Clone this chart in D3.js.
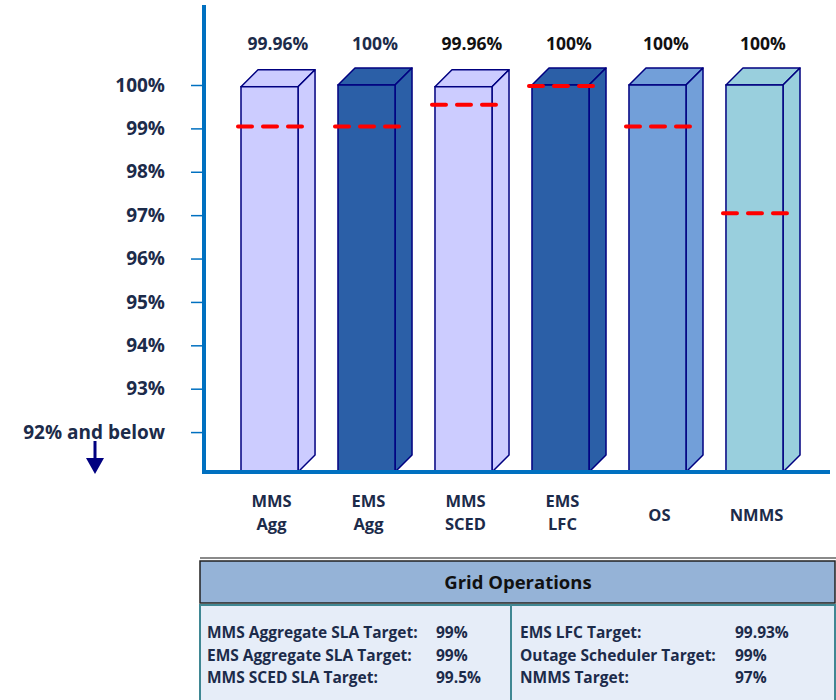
<!DOCTYPE html>
<html>
<head>
<meta charset="utf-8">
<script src="https://cdn.jsdelivr.net/npm/d3@7"></script>
<style>
  body { margin: 0; background: #fff; }
  svg { display: block; font-family: "Open Sans", sans-serif; font-weight: bold; }
</style>
</head>
<body>
<div id="chart"></div>
<script>
"use strict";
(function(){
    // chart values
    const systems = ["MMS Agg", "EMS Agg", "MMS SCED", "EMS LFC", "OS", "NMMS"]
    const labelLines = [["MMS", "Agg"], ["EMS", "Agg"], ["MMS", "SCED"], ["EMS", "LFC"], ["OS"], ["NMMS"]]
    const availability = [99.96, 100, 99.96, 100, 100, 100]
    const valueLabels = ["99.96%", "100%", "99.96%", "100%", "100%", "100%"]
    const targets = [99, 99, 99.5, 99.93, 99, 97]
    const barColors = ["#ccccff", "#2b5fa7", "#ccccff", "#2b5fa7", "#729fd9", "#99cfdd"]
    const tickValues = [92, 93, 94, 95, 96, 97, 98, 99, 100]
    const yFloor = 91.08

    // table text
    const tableTitle = "Grid Operations"
    const leftLabels = ["MMS Aggregate SLA Target:", "EMS Aggregate SLA Target:", "MMS SCED SLA Target:"]
    const leftValues = ["99%", "99%", "99.5%"]
    const rightLabels = ["EMS LFC Target:", "Outage Scheduler Target:", "NMMS Target:"]
    const rightValues = ["99.93%", "99%", "97%"]

    const W = 836, H = 700
    const textColor = "#1c2b4a"
    const axisColor = "#0070c0"
    const depth = 17

    const svg = d3.select("#chart").append("svg")
        .attr("width", W)
        .attr("height", H)

    const x = d3.scaleBand()
        .domain(systems)
        .range([221.6, 802.4])
        .paddingInner(0.412)
        .paddingOuter(0.2)

    const y = d3.scaleLinear()
        .domain([yFloor, 100])
        .range([472, 85])

    const base = y(yFloor)
    const bw = x.bandwidth()

    // y axis ticks
    const yAxis = d3.axisLeft(y)
        .tickValues(tickValues)
        .tickSize(12)
        .tickPadding(26)
        .tickFormat(d => d == 92 ? "92% and below" : d + "%")

    const gy = svg.append("g")
        .attr("transform", "translate(203,0)")
        .call(yAxis)
    gy.select(".domain").remove()
    gy.selectAll(".tick line").attr("stroke", axisColor).attr("stroke-width", 1.5)
    gy.selectAll(".tick text")
        .attr("fill", textColor)
        .style("font-size", "19px")
        .style("font-weight", "bold")
        .style("font-family", "'Open Sans', sans-serif")

    // arrow under 92% label
    svg.append("line")
        .attr("x1", 95).attr("x2", 95)
        .attr("y1", 441).attr("y2", 460)
        .attr("stroke", "#000080")
        .attr("stroke-width", 3)
    svg.append("path")
        .attr("d", "M86,458 L104,458 L95,474 Z")
        .attr("fill", "#000080")

    // bars
    const bars = svg.selectAll(".bar")
        .data(systems)
        .enter().append("g")
        .attr("class", "bar")

    bars.append("path")
        .attr("d", (d, i) => {
            const x0 = x(d), y0 = y(availability[i])
            return `M${x0},${y0} L${x0 + depth},${y0 - depth} L${x0 + bw + depth},${y0 - depth} L${x0 + bw},${y0} Z`
        })
        .attr("fill", (d, i) => barColors[i])
        .attr("stroke", "#000080")
        .attr("stroke-width", 1.5)
        .attr("stroke-linejoin", "round")

    bars.append("path")
        .attr("d", (d, i) => {
            const x1 = x(d) + bw, y0 = y(availability[i])
            return `M${x1},${y0} L${x1 + depth},${y0 - depth} L${x1 + depth},${base - depth} L${x1},${base} Z`
        })
        .attr("fill", (d, i) => barColors[i])
        .attr("stroke", "#000080")
        .attr("stroke-width", 1.5)
        .attr("stroke-linejoin", "round")

    bars.append("rect")
        .attr("x", d => x(d))
        .attr("y", (d, i) => y(availability[i]))
        .attr("width", bw)
        .attr("height", (d, i) => base - y(availability[i]))
        .attr("fill", (d, i) => barColors[i])
        .attr("stroke", "#000080")
        .attr("stroke-width", 1.5)

    // target lines
    bars.append("line")
        .attr("x1", d => x(d) - 3)
        .attr("x2", d => x(d) + bw + 6)
        .attr("y1", (d, i) => y(targets[i]) - 2)
        .attr("y2", (d, i) => y(targets[i]) - 2)
        .attr("stroke", "#ff0000")
        .attr("stroke-width", 4)
        .attr("stroke-dasharray", "14,11")
        .attr("stroke-linecap", "round")

    // value labels
    bars.append("text")
        .attr("x", d => x(d) + bw / 2 + depth / 2)
        .attr("y", 50)
        .attr("text-anchor", "middle")
        .attr("fill", (d, i) => i < 2 ? textColor : "#111")
        .style("font-size", "17.5px")
        .text((d, i) => valueLabels[i])

    // axis lines
    svg.append("line")
        .attr("x1", 204).attr("x2", 204)
        .attr("y1", 5).attr("y2", base + 2)
        .attr("stroke", axisColor)
        .attr("stroke-width", 4)
    svg.append("line")
        .attr("x1", 202).attr("x2", 830)
        .attr("y1", base).attr("y2", base)
        .attr("stroke", axisColor)
        .attr("stroke-width", 4)

    // category labels
    const cats = svg.selectAll(".cat")
        .data(systems)
        .enter().append("text")
        .attr("class", "cat")
        .attr("text-anchor", "middle")
        .attr("fill", textColor)
        .style("font-size", "16.5px")
    cats.each(function(d, i) {
        const lines = labelLines[i]
        const cx = x(d) + bw / 2 + 2
        const top = lines.length == 1 ? 521 : 507
        lines.forEach((l, j) => {
            d3.select(this).append("tspan")
                .attr("x", cx)
                .attr("y", top + j * 23)
                .text(l)
        })
    })

    // table
    svg.append("line")
        .attr("x1", 200).attr("x2", W)
        .attr("y1", 558).attr("y2", 558)
        .attr("stroke", "#8a8a8a")
        .attr("stroke-width", 2)

    svg.append("rect")
        .attr("x", 200).attr("y", 561)
        .attr("width", 635).attr("height", 42)
        .attr("fill", "#95b3d7")
        .attr("stroke", "#222")
        .attr("stroke-width", 1.5)
    svg.append("text")
        .attr("x", 518).attr("y", 589)
        .attr("text-anchor", "middle")
        .attr("fill", "#111")
        .style("font-size", "18.5px")
        .text(tableTitle)

    svg.append("rect")
        .attr("x", 200).attr("y", 605)
        .attr("width", 635).attr("height", 100)
        .attr("fill", "#e6edf8")
        .attr("stroke", "#3f8793")
        .attr("stroke-width", 2)
    svg.append("line")
        .attr("x1", 511).attr("x2", 511)
        .attr("y1", 605).attr("y2", H)
        .attr("stroke", "#3f8793")
        .attr("stroke-width", 2)

    const rowY = [638, 661, 683]
    const tableText = (tx, ty, t) => svg.append("text")
        .attr("x", tx).attr("y", ty)
        .attr("fill", textColor)
        .style("font-size", "15.5px")
        .text(t)
    rowY.forEach((ry, i) => {
        tableText(207, ry, leftLabels[i])
        tableText(436, ry, leftValues[i])
        tableText(520, ry, rightLabels[i])
        tableText(735, ry, rightValues[i])
    })
})()
</script>
</body>
</html>
